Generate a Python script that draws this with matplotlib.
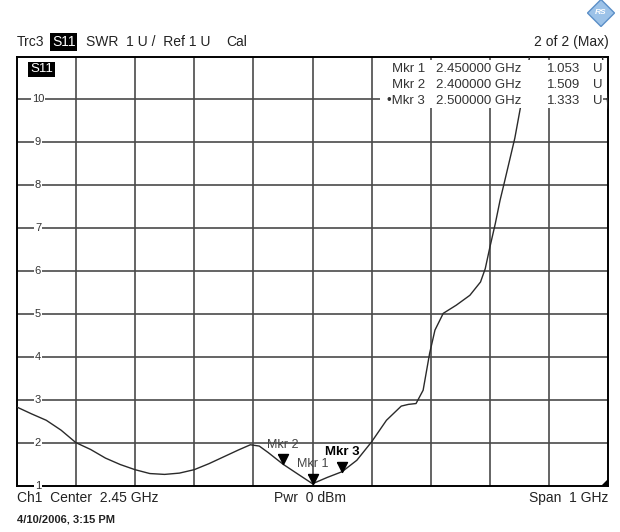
import numpy as np
import matplotlib
matplotlib.use('Agg')
import matplotlib.pyplot as plt
from matplotlib.patches import RegularPolygon, Polygon, Rectangle
from matplotlib.path import Path

plt.rcParams['font.family'] = ['Liberation Sans', 'DejaVu Sans']

# trace (SWR vs frequency)
freq_ghz = [1.950, 1.975, 2.000, 2.025, 2.050, 2.075, 2.100, 2.125, 2.150, 2.175,
            2.200, 2.225, 2.250, 2.275, 2.300, 2.325, 2.345, 2.360, 2.375, 2.400,
            2.425, 2.450, 2.475, 2.500, 2.525, 2.550, 2.575, 2.600, 2.612, 2.625,
            2.637, 2.648, 2.657, 2.671, 2.693, 2.716, 2.734, 2.742, 2.750, 2.759,
            2.767, 2.774, 2.792, 2.800, 2.817, 2.850, 2.900, 2.940, 2.950]
swr = [2.84, 2.68, 2.53, 2.30, 2.01, 1.85, 1.65, 1.50, 1.38, 1.29,
       1.27, 1.30, 1.38, 1.52, 1.68, 1.84, 1.96, 1.93, 1.78, 1.509,
       1.28, 1.053, 1.20, 1.333, 1.60, 2.03, 2.53, 2.86, 2.90, 2.92,
       3.23, 4.09, 4.63, 5.02, 5.21, 5.44, 5.75, 6.06, 6.57, 7.11,
       7.65, 8.05, 9.10, 9.70, 11.00, 12.5, 12.5, 11.00, 9.80]

mkr_names = ['Mkr 1', 'Mkr 2', 'Mkr 3']
mkr_freq = [2.45, 2.40, 2.50]
mkr_swr = [1.053, 1.509, 1.333]
mkr_freq_txt = ['2.450000 GHz', '2.400000 GHz', '2.500000 GHz']
mkr_val_txt = ['1.053', '1.509', '1.333']

y_ticks = [1, 2, 3, 4, 5, 6, 7, 8, 9, 10]

W, H = 620, 532
fig = plt.figure(figsize=(W / 100, H / 100), dpi=100)


def fx(px):
    return px / W


def fy(py):
    return 1 - py / H


ax = fig.add_axes([fx(16.7), fy(486), fx(608.3) - fx(16.7), fy(56.5) - fy(486)])
ax.set_xlim(1.95, 2.95)
ax.set_ylim(1, 11)
ax.set_xticks(np.arange(2.05, 2.9, 0.1))
ax.set_yticks(np.arange(2, 11, 1))
ax.tick_params(length=0, labelbottom=False, labelleft=False)
ax.grid(True, color='#4a4a4a', lw=1.2)
for s in ax.spines.values():
    s.set_color('black')
    s.set_linewidth(1.4)

ax.plot(freq_ghz, swr, color='#2a2a2a', lw=1.0, zorder=3)

# y labels sitting on the grid lines
for v in y_ticks:
    ax.text(0.036, v, str(v), transform=ax.get_yaxis_transform(), ha='center',
            va='center', fontsize=8, color='#333333', zorder=6, clip_on=False,
            bbox=dict(facecolor='white', edgecolor='none', pad=0.6))

ax.text(0.042, 10.7, 'S11', transform=ax.get_yaxis_transform(), ha='center',
        va='center', fontsize=9.5, color='white', zorder=6,
        bbox=dict(facecolor='black', edgecolor='none', pad=1.2))

# marker triangles, tip on the trace
tri = Path([(-0.5, 1.0), (0.5, 1.0), (0.0, 0.0), (-0.5, 1.0)])
ax.plot(mkr_freq, mkr_swr, ls='none', marker=tri, ms=14.4, color='black', zorder=5)
for name, f, v in zip(mkr_names, mkr_freq, mkr_swr):
    bold = name == 'Mkr 3'
    ax.annotate(name, (f, v), xytext=(0, 14), textcoords='offset points',
                ha='center', va='center', fontsize=9.5 if bold else 9,
                fontweight='bold' if bold else 'normal',
                color='black' if bold else '#444444', zorder=6)

# marker table in the top right, on a white block that hides grid and trace
fig.add_artist(Rectangle((fx(380), fy(98)), fx(607) - fx(380), fy(60) - fy(98),
                         transform=fig.transFigure, facecolor='white',
                         edgecolor='none', zorder=1))
fig.add_artist(Rectangle((fx(380), fy(108)), fx(603) - fx(380), fy(60) - fy(108),
                         transform=fig.transFigure, facecolor='white',
                         edgecolor='none', zorder=1))
rows_y = [68.5, 84.5, 100.5]
for i in range(3):
    y = fy(rows_y[i])
    kw = dict(va='center', fontsize=9.5, color='#333333', zorder=2)
    fig.text(fx(425), y, ('\u2022' if i == 2 else '') + mkr_names[i], ha='right', **kw)
    fig.text(fx(436), y, mkr_freq_txt[i], ha='left', **kw)
    fig.text(fx(547), y, mkr_val_txt[i], ha='left', **kw)
    fig.text(fx(593), y, 'U', ha='left', **kw)

# header line
fig.text(fx(17), fy(42), 'Trc3', va='center', fontsize=10, color='#222222')
fig.text(fx(52), fy(42), 'S11', va='center', fontsize=10, color='white',
         bbox=dict(facecolor='black', edgecolor='none', pad=1.2))
fig.text(fx(86), fy(42), 'SWR  1 U /  Ref 1 U', va='center', fontsize=10, color='#222222')
fig.text(fx(226), fy(42), 'Cal', va='center', fontsize=10, color='#222222')
fig.text(fx(609), fy(42), '2 of 2 (Max)', ha='right', va='center', fontsize=10,
         color='#222222')

# R&S logo
logo = RegularPolygon((6.01, (H - 13) / 100), numVertices=4, radius=0.135,
                      transform=fig.dpi_scale_trans, facecolor='#9cc2e8',
                      edgecolor='#5b8fc7', lw=1.0)
fig.add_artist(logo)
fig.text(fx(601), fy(13), 'RS', ha='center', va='center', fontsize=6,
         color='white', fontweight='bold', style='italic')

# footer
fig.text(fx(17), fy(498), 'Ch1  Center  2.45 GHz', va='center', fontsize=10, color='#222222')
fig.text(fx(310), fy(498), 'Pwr  0 dBm', ha='center', va='center', fontsize=10,
         color='#222222')
fig.text(fx(608), fy(498), 'Span  1 GHz', ha='right', va='center', fontsize=10,
         color='#222222')
fig.text(fx(17), fy(519), '4/10/2006, 3:15 PM', va='center', fontsize=8,
         fontweight='bold', color='#222222')

# small corner flag bottom right
ax.add_patch(Polygon([(0.988, 0.0), (1.0, 0.0), (1.0, 0.016)], closed=True,
                     transform=ax.transAxes, facecolor='black', edgecolor='none',
                     zorder=6))

fig.savefig('out.png', dpi=100, facecolor='white')
